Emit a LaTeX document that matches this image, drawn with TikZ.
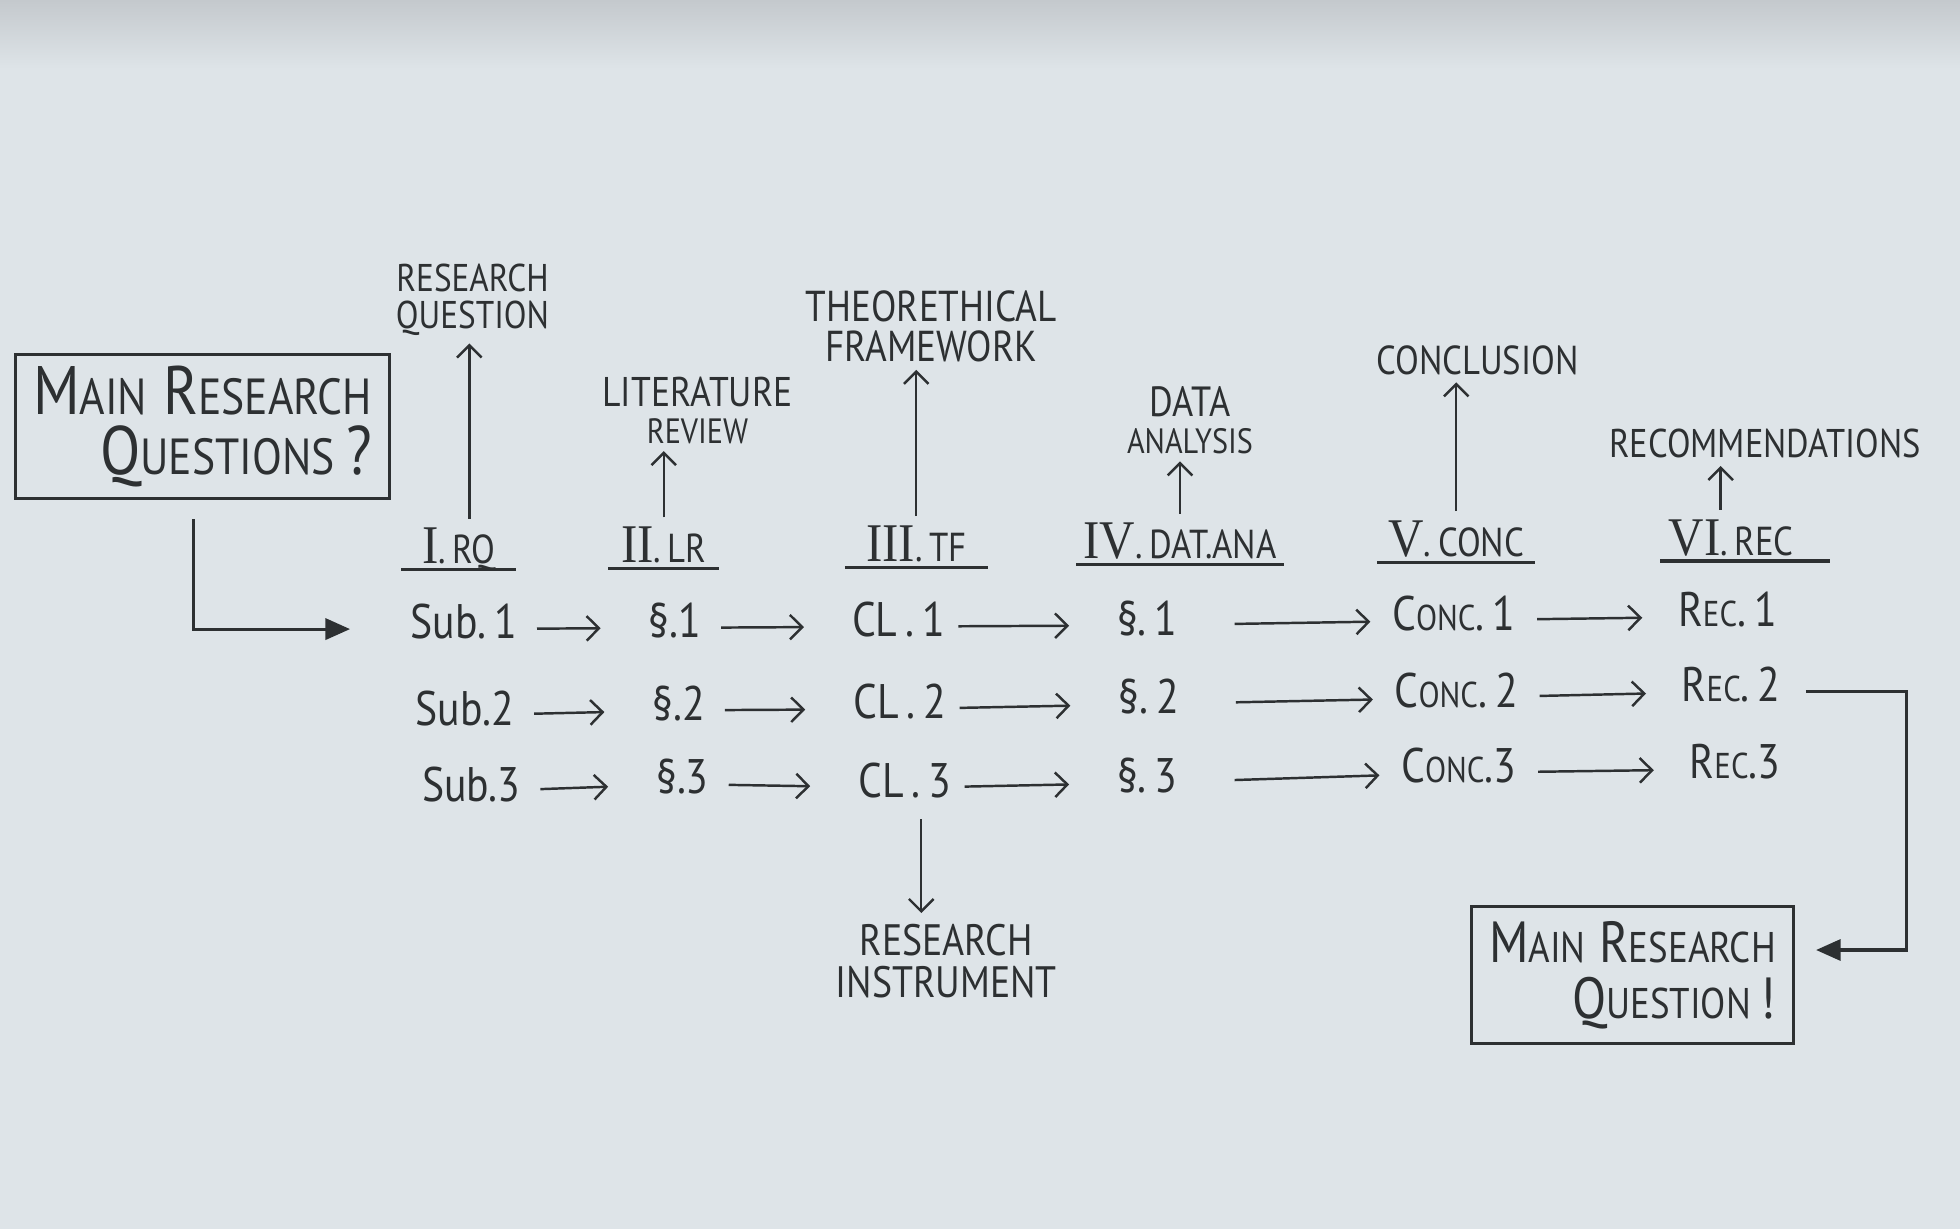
\documentclass[tikz,border=0pt]{standalone}
\usepackage{fontspec}
\setmainfont{PT Sans}[FakeStretch=0.86]
\newfontfamily\rnumfont{Liberation Serif}[FakeStretch=0.9]
\usetikzlibrary{positioning,arrows.meta}
\definecolor{paper}{RGB}{222,228,232}
\definecolor{shadow}{RGB}{196,201,205}
\definecolor{ink}{RGB}{45,48,50}
\makeatletter
\newcommand\smc[1]{{\fontsize{\the\dimexpr0.74\dimexpr\f@size pt\relax\relax}{\f@baselineskip}\selectfont#1}}
\makeatother
\newcommand\rn[1]{{\rnumfont\fontsize{15.5}{16}\selectfont #1}}
\tikzset{
  txt/.style={text=ink, inner sep=0pt},
  rowtxt/.style={txt, font=\fontsize{13.8}{15}\selectfont, anchor=base, text height=5.5pt, text depth=0pt},
  headtxt/.style={txt, font=\fontsize{11.5}{13}\selectfont, anchor=base, inner ysep=1.5pt, text depth=0pt},
  labtop/.style={txt, align=center, font=\fontsize{11}{10.5}\selectfont},
  qbox/.style={draw=ink, line width=0.9pt, align=right, text=ink, inner xsep=5pt},
  flow/.style={draw=ink, line width=0.7pt, -{Straight Barb[length=3.5pt,width=7pt]}, shorten <=5.5pt, shorten >=13.5pt},
  up/.style={draw=ink, line width=0.7pt, -{Straight Barb[length=3.5pt,width=7pt]}, shorten <=1pt, shorten >=2pt},
  ul/.style={draw=ink, line width=0.9pt},
  link/.style={draw=ink, line width=0.9pt, -{Triangle[length=7pt,width=6pt]}}
}

\begin{document}
\begin{tikzpicture}[x=0.0125cm, y=-0.0125cm]
\useasboundingbox (0,0) rectangle (1568,983);
\fill[paper] (0,0) rectangle (1568,983);
\shade[top color=shadow, bottom color=paper] (0,0) rectangle (1568,55);

\node[qbox, minimum width=3.69cm, minimum height=1.2cm, font=\fontsize{19.5}{17}\selectfont] (mrq) at (162,341) {M\smc{AIN} R\smc{ESEARCH}\\Q\smc{UESTIONS}\,?};
\node[qbox, minimum width=3.175cm, minimum height=1.375cm, font=\fontsize{16.5}{16}\selectfont] (mrqa) at (1306,780) {M\smc{AIN} R\smc{ESEARCH}\\Q\smc{UESTION}\,!};

\node[headtxt, minimum width=32.4pt] (h1) at (367,451) {\rn{I}.\,RQ};
\node[headtxt, minimum width=31.3pt] (h2) at (531,450) {\rn{II}.\,LR};
\node[headtxt, minimum width=40.2pt] (h3) at (733,449) {\rn{III}.\,TF};
\node[headtxt, minimum width=58.7pt] (h4) at (944,447) {\rn{IV}.\,DAT.ANA};
\node[headtxt, minimum width=44.5pt] (h5) at (1165,445) {\rn{V}.\,CONC};
\node[headtxt, minimum width=40pt] (h6) at (1385,444) {\rn{VI}.\,REC};

\node[labtop] (t1) at (378,240) {RESEARCH\\QUESTION};
\node[labtop] (t2) at (558,328) {{\fontsize{11.8}{11}\selectfont LITERATURE}\\{\fontsize{10}{9.5}\selectfont REVIEW}};
\node[labtop, font=\fontsize{12.3}{11.5}\selectfont] (t3) at (745,261) {THEORETHICAL\\FRAMEWORK};
\node[labtop] (t4) at (952,336) {{\fontsize{12}{10}\selectfont DATA}\\{\fontsize{10}{9}\selectfont ANALYSIS}};
\node[labtop, font=\fontsize{11.5}{11.5}\selectfont] (t5) at (1182,288) {CONCLUSION};
\node[labtop, font=\fontsize{11.4}{11.5}\selectfont] (t6) at (1412,355) {RECOMMENDATIONS};
\node[labtop, font=\fontsize{12.5}{12}\selectfont] (ri) at (757,769) {RESEARCH\\INSTRUMENT};

\node[rowtxt] (s1) at (371,511) {Sub.\,1};
\node[rowtxt] (s2) at (372,580) {Sub.2};
\node[rowtxt] (s3) at (377,641) {Sub.3};
\node[rowtxt] (l1) at (540,510) {\S.1};
\node[rowtxt] (l2) at (543,576) {\S.2};
\node[rowtxt] (l3) at (546,635) {\S.3};
\node[rowtxt] (c1) at (719,509) {CL\,.\,1};
\node[rowtxt] (c2) at (720,575) {CL\,.\,2};
\node[rowtxt] (c3) at (724,638) {CL\,.\,3};
\node[rowtxt] (d1) at (918,508) {\S.\,1};
\node[rowtxt] (d2) at (919,571) {\S.\,2};
\node[rowtxt] (d3) at (918,634) {\S.\,3};
\node[rowtxt] (n1) at (1163,504) {C\smc{ONC}.\,1};
\node[rowtxt] (n2) at (1165,566) {C\smc{ONC}.\,2};
\node[rowtxt] (n3) at (1167,626) {C\smc{ONC}.3};
\node[rowtxt] (r1) at (1382,501) {R\smc{EC}.\,1};
\node[rowtxt] (r2) at (1385,561) {R\smc{EC}.\,2};
\node[rowtxt] (r3) at (1388,623) {R\smc{EC}.3};

\coordinate (lc) at (155,505);
\coordinate (rc) at (1525,760);
\coordinate (ix) at (737,0);

\draw[ul] (h1.south west) -- (h1.south east);
\draw[ul] (h2.south west) -- (h2.south east);
\draw[ul] (h3.south west) -- (h3.south east);
\draw[ul] (h4.south west) -- (h4.south east);
\draw[ul] (h5.south west) -- (h5.south east);
\draw[ul] (h6.south west) -- ([xshift=8pt]h6.south east);

\draw[up] ([xshift=3pt]h1.north) -- ([xshift=3pt]h1.north |- t1.south);
\draw[up] (h2.north) -- (h2.north |- t2.south);
\draw[up] (h3.north) -- (h3.north |- t3.south);
\draw[up] (h4.north) -- (h4.north |- t4.south);
\draw[up] (h5.north) -- (h5.north |- t5.south);
\draw[up] ([xshift=-3pt]h6.north) -- ([xshift=-3pt]h6.north |- t6.south);
\draw[up, shorten <=6pt, shorten >=3pt] (c3.south -| ix) -- (ri.north -| ix);

\draw[flow] (s1) -- (l1);
\draw[flow] (s2) -- (l2);
\draw[flow] (s3) -- (l3);
\draw[flow] (l1) -- (c1);
\draw[flow] (l2) -- (c2);
\draw[flow] (l3) -- (c3);
\draw[flow, shorten <=3.5pt] (c1) -- (d1);
\draw[flow, shorten <=3.5pt] (c2) -- (d2);
\draw[flow, shorten <=3.5pt] (c3) -- (d3);
\draw[flow, shorten <=16pt, shorten >=6pt] (d1) -- (n1);
\draw[flow, shorten <=16pt, shorten >=6pt] (d2) -- (n2);
\draw[flow, shorten <=16pt, shorten >=6pt] (d3) -- (n3);
\draw[flow, shorten <=6pt, shorten >=10pt] (n1) -- (r1);
\draw[flow, shorten <=6pt, shorten >=10pt] (n2) -- (r2);
\draw[flow, shorten <=6pt, shorten >=10pt] (n3) -- (r3);

\draw[link, shorten <=5.5pt, shorten >=17pt] (mrq.south -| lc) |- (s1.west);
\draw[link, shorten <=7pt, shorten >=6pt] (r2.east) -- (r2.east -| rc) -- (rc) -- (mrqa.east |- rc);
\end{tikzpicture}
\end{document}
